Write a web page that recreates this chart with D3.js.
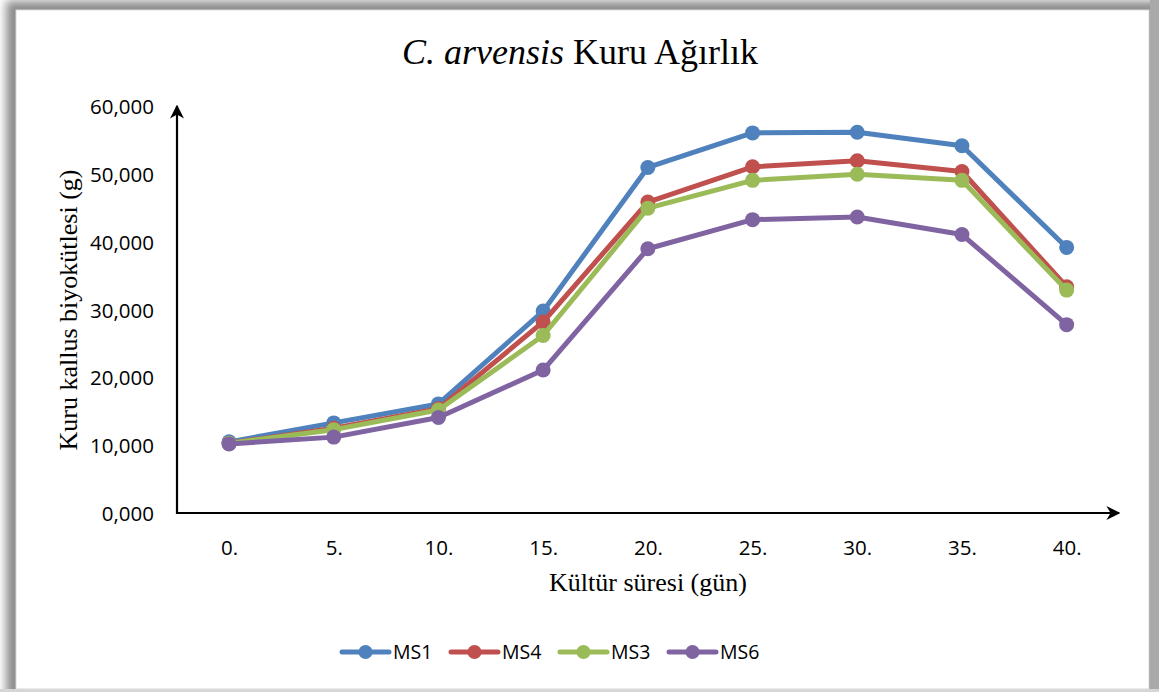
<!DOCTYPE html>
<html>
<head>
<meta charset="utf-8">
<script src="https://cdn.jsdelivr.net/npm/d3@7"></script>
<style>
  html, body { margin: 0; padding: 0; background: #ffffff; }
  svg { display: block; }
</style>
</head>
<body>
<svg id="chart" width="1159" height="692"></svg>
<script>
// ---- data ----
const categories = ["0.", "5.", "10.", "15.", "20.", "25.", "30.", "35.", "40."];
const seriesNames = ["MS1", "MS4", "MS3", "MS6"];
const ms1 = [10.5, 13.3, 16.1, 29.8, 51.0, 56.1, 56.2, 54.2, 39.2];
const ms4 = [10.3, 12.5, 15.4, 28.2, 45.9, 51.1, 52.0, 50.4, 33.4];
const ms3 = [10.3, 12.3, 15.2, 26.2, 45.0, 49.1, 50.0, 49.1, 32.9];
const ms6 = [10.2, 11.2, 14.1, 21.1, 39.0, 43.3, 43.7, 41.1, 27.8];
const yTicks = [0, 10, 20, 30, 40, 50, 60];
const colors = ["#4F81BD", "#C0504D", "#9BBB59", "#8064A2"];

const seriesValues = [ms1, ms4, ms3, ms6];
const series = seriesNames.map((n, i) => ({ name: n, values: seriesValues[i], color: colors[i] }));

const svg = d3.select("#chart");

// ---- frame with shadow ----
const defs = svg.append("defs");
const blur = defs.append("filter").attr("id", "shadow")
  .attr("x", "-5%").attr("y", "-5%").attr("width", "110%").attr("height", "110%");
blur.append("feGaussianBlur").attr("stdDeviation", 5);
svg.append("rect").attr("x", 6).attr("y", 1).attr("width", 1160).attr("height", 700)
  .attr("fill", "#8c8c8c").attr("filter", "url(#shadow)");
svg.append("rect").attr("x", 1150).attr("y", 0).attr("width", 9).attr("height", 692).attr("fill", "#a9a9a9");
svg.append("rect").attr("x", 0).attr("y", 689).attr("width", 1159).attr("height", 3).attr("fill", "#d6d6d6");
svg.append("rect").attr("x", 16).attr("y", 10).attr("width", 1133).attr("height", 679)
  .attr("fill", "#ffffff").attr("stroke", "#d9d9d9").attr("stroke-width", 1);

// ---- scales ----
const x = d3.scalePoint().domain(categories).range([176.7, 1119]).padding(0.5);
const y = d3.scaleLinear().domain([0, 60]).range([513, 106.5]);

const fmt = v => d3.format(".3f")(v).replace(".", ",");

// arrow marker
defs.append("marker").attr("id", "arrow")
  .attr("viewBox", "0 0 10 10").attr("refX", 9).attr("refY", 5)
  .attr("markerWidth", 14).attr("markerHeight", 14).attr("markerUnits", "userSpaceOnUse")
  .attr("orient", "auto")
  .append("path").attr("d", "M0,0 L10,5 L0,10 L3,5 Z").attr("fill", "#000");

// ---- axes ----
const xAxis = d3.axisBottom(x).tickSize(0).tickPadding(0);
const gx = svg.append("g").attr("transform", `translate(0,${y(0)})`).call(xAxis);
gx.select(".domain").remove();
gx.selectAll("text")
  .attr("font-family", "Open Sans").attr("font-size", 20.5).attr("fill", "#000")
  .attr("dy", null).attr("y", 42);

const yAxis = d3.axisLeft(y).tickValues(yTicks).tickFormat(fmt).tickSize(0).tickPadding(0);
const gy = svg.append("g").attr("transform", `translate(154,0)`).call(yAxis);
gy.select(".domain").remove();
gy.selectAll("text")
  .attr("font-family", "Open Sans").attr("font-size", 20.5).attr("fill", "#000")
  .attr("x", 0).attr("dy", "0.36em");

// axis lines with arrows
svg.append("line").attr("x1", 177).attr("y1", y(0)).attr("x2", 1119).attr("y2", y(0))
  .attr("stroke", "#000").attr("stroke-width", 2.2).attr("marker-end", "url(#arrow)");
svg.append("line").attr("x1", 177).attr("y1", y(0) + 1.1).attr("x2", 177).attr("y2", 106)
  .attr("stroke", "#000").attr("stroke-width", 2.2).attr("marker-end", "url(#arrow)");

// ---- lines ----
const line = d3.line().x((d, i) => x(categories[i])).y(d => y(d));
series.forEach(s => {
  const g = svg.append("g");
  g.append("path").datum(s.values).attr("d", line)
    .attr("fill", "none").attr("stroke", s.color).attr("stroke-width", 5)
    .attr("stroke-linejoin", "round");
  g.selectAll("circle").data(s.values).join("circle")
    .attr("cx", (d, i) => x(categories[i])).attr("cy", d => y(d))
    .attr("r", 7.5).attr("fill", s.color);
});

// ---- titles ----
const title = svg.append("text").attr("x", 580).attr("y", 64).attr("text-anchor", "middle")
  .attr("font-family", "Liberation Serif, Times New Roman, serif").attr("font-size", 36).attr("fill", "#000");
title.append("tspan").attr("font-style", "italic").text("C. arvensis");
title.append("tspan").text(" Kuru Ağırlık");

svg.append("text").attr("x", 648).attr("y", 591).attr("text-anchor", "middle")
  .attr("font-family", "Liberation Serif, Times New Roman, serif").attr("font-size", 26).attr("fill", "#000")
  .text("Kültür süresi (gün)");

svg.append("text").attr("transform", "translate(77,310) rotate(-90)").attr("text-anchor", "middle")
  .attr("font-family", "Liberation Serif, Times New Roman, serif").attr("font-size", 26).attr("fill", "#000")
  .text("Kuru kallus biyokütlesi (g)");

// ---- legend ----
const legendX = [342, 451, 560, 669];
const leg = svg.append("g");
series.forEach((s, i) => {
  const g = leg.append("g").attr("transform", `translate(${legendX[i]},652)`);
  g.append("line").attr("x1", 0).attr("x2", 47).attr("y1", 0).attr("y2", 0)
    .attr("stroke", s.color).attr("stroke-width", 5).attr("stroke-linecap", "round");
  g.append("circle").attr("cx", 23.5).attr("cy", 0).attr("r", 7).attr("fill", s.color);
  g.append("text").attr("x", 51).attr("y", 0).attr("dy", "0.36em")
    .attr("font-family", "Open Sans").attr("font-size", 19.5).attr("fill", "#000").text(s.name);
});
</script>
</body>
</html>
